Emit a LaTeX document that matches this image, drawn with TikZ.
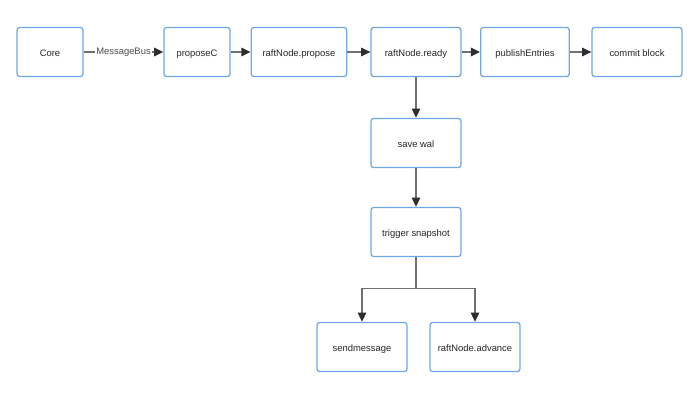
\documentclass[tikz,border=0pt]{standalone}
\usepackage{fontspec}
\setmainfont{Liberation Sans}
\usetikzlibrary{arrows.meta,positioning,calc}
\definecolor{boxblue}{HTML}{6FA8E8}
\definecolor{linegray}{HTML}{707070}
\definecolor{tipgray}{HTML}{2E2E2E}
\tikzset{
  % box style for every step of the flow
  blk/.style={draw=boxblue, line width=0.9pt, rectangle, rounded corners=2pt,
  fill=white, minimum height=35pt, text height=1.6ex, text depth=0.4ex,
  text=black!85, font=\fontsize{6.7}{8}\selectfont},
  flow/.style={draw=linegray, line width=1pt,
  -{Triangle[length=6.5pt, width=6pt, color=tipgray]}}}

\begin{document}
\begin{tikzpicture}[x=0.025cm, y=0.025cm]
\useasboundingbox (0,0) rectangle (700,-400);

\draw (50,-52) node (core) [blk, minimum width=47pt] {Core};
\draw (197,-52) node (propc) [blk, minimum width=47pt] {proposeC};
\draw (299,-52) node (rprop) [blk, minimum width=68pt] {raftNode.propose};
\draw (416,-52) node (ready) [blk, minimum width=64pt] {raftNode.ready};
\draw (525,-52) node (pub) [blk, minimum width=63pt] {publishEntries};
\draw (637,-52) node (commit) [blk, minimum width=64pt] {commit block};

\draw (416,-143) node (wal) [blk, minimum width=64pt] {save wal};
\draw (416,-232) node (snap) [blk, minimum width=64pt] {trigger snapshot};

\draw (362,-347) node (send) [blk, minimum width=64pt] {sendmessage};
\draw (475,-347) node (adv) [blk, minimum width=64pt] {raftNode.advance};

\draw [flow] (core) -- node [fill=white, inner sep=1pt, font=\fontsize{6.7}{8}\selectfont, text=black!70] {MessageBus} (propc);
\draw [flow] (propc) -- (rprop);
\draw [flow] (rprop) -- (ready);
\draw [flow] (ready) -- (pub);
\draw [flow] (pub) -- (commit);

\draw [flow] (ready) -- (wal);
\draw [flow] (wal) -- (snap);

\path (snap.south) -- +(0,-31) coordinate (split);
\draw [flow] (snap.south) -- (split) -| (send.north);
\draw [flow] (split) -| (adv.north);

\end{tikzpicture}
\end{document}
